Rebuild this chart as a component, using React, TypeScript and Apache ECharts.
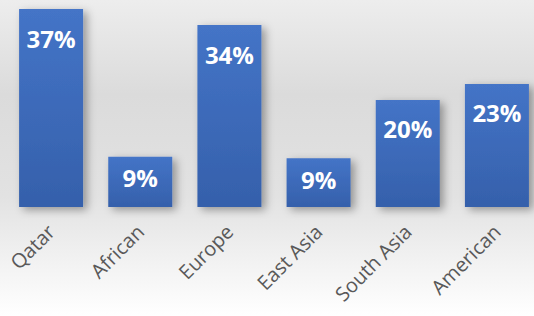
import React, { useEffect, useRef } from "react";
import * as echarts from "echarts";

const categories = ["Qatar", "African", "Europe", "East Asia", "South Asia", "American"];
const shares = [37, 9.4, 34, 9.1, 20, 23];

export default function App() {
  const ref = useRef<HTMLDivElement>(null);
  useEffect(() => {
    if (!ref.current) return;
    const chart = echarts.init(ref.current, undefined, { renderer: "svg" });
    chart.setOption({
      animation: false,
      backgroundColor: new echarts.graphic.LinearGradient(0, 0, 0, 1, [
        { offset: 0, color: "#ededed" },
        { offset: 0.3, color: "#dbdbdb" },
        { offset: 0.62, color: "#e2e2e2" },
        { offset: 1, color: "#ffffff" },
      ]),
      grid: { left: 6.5, right: 0.5, top: 9, height: 198, containLabel: false },
      xAxis: {
        type: "category",
        data: categories,
        axisLine: { show: false },
        axisTick: { show: false },
        axisLabel: {
          rotate: 45,
          margin: 21,
          color: "#595959",
          fontFamily: "Open Sans",
          fontSize: 20,
          interval: 0,
        },
      },
      yAxis: {
        type: "value",
        min: 0,
        max: 37,
        show: false,
        splitLine: { show: false },
      },
      series: [
        {
          type: "bar",
          data: shares.map((v) => ({ value: v, label: { distance: v < 10 ? 9 : 17 } })),
          barWidth: 64,
          itemStyle: {
            color: new echarts.graphic.LinearGradient(0, 0, 0, 1, [
              { offset: 0, color: "#4474c7" },
              { offset: 1, color: "#3560ab" },
            ]),
            shadowColor: "rgba(0,0,0,0.35)",
            shadowBlur: 8,
            shadowOffsetX: 4,
            shadowOffsetY: 3,
          },
          label: {
            show: true,
            position: "insideTop",
            distance: 17,
            color: "#ffffff",
            fontFamily: "Open Sans",
            fontWeight: "bold",
            fontSize: 24,
            formatter: (p: any) => Math.round(p.value) + "%",
          },
        },
      ],
    });
    return () => chart.dispose();
  }, []);
  return (
    <div style={{ position: "absolute", left: 0, top: 0, width: 534, height: 316, overflow: "hidden" }}>
      <div ref={ref} style={{ width: 542, height: 316 }} />
    </div>
  );
}
